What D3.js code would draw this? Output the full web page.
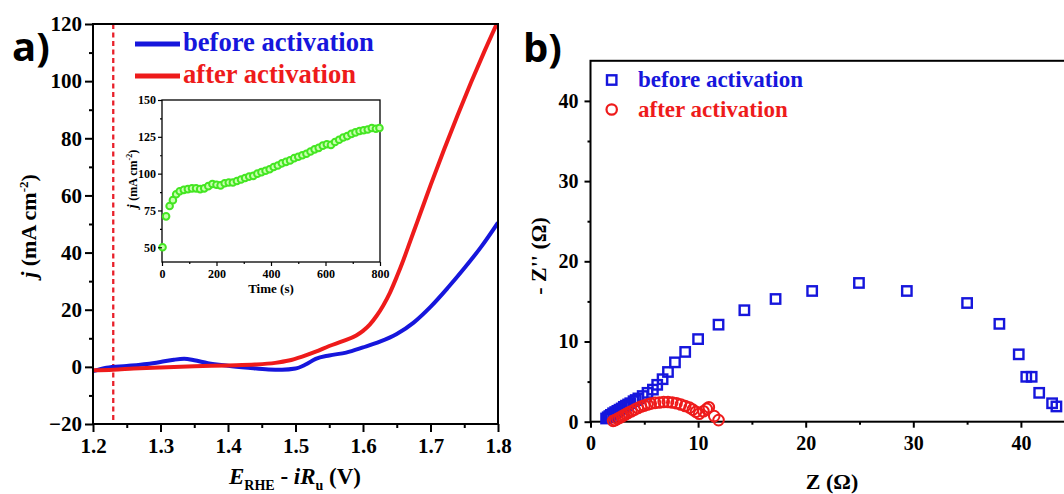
<!DOCTYPE html>
<html>
<head>
<meta charset="utf-8">
<script src="https://cdn.jsdelivr.net/npm/d3@7"></script>
<style>
  body { margin: 0; background: #fff; }
  text { font-family: "Liberation Serif", "Times New Roman", serif; font-weight: bold; }
  .panel-tag { font-family: "Open Sans", "Liberation Sans", sans-serif; font-weight: 700; }
</style>
</head>
<body>
<script>
// LSV curves (panel a)
const beforeV = [1.20, 1.22, 1.25, 1.28, 1.30, 1.32, 1.335, 1.35, 1.37, 1.40, 1.43, 1.46, 1.48, 1.50, 1.515,
  1.53, 1.55, 1.575, 1.60, 1.625, 1.65, 1.675, 1.70, 1.725, 1.75, 1.775, 1.80];
const beforeJ = [-1.5, -0.3, 0.3, 1.0, 1.7, 2.5, 2.8, 2.3, 1.3, 0.4, -0.3, -0.9, -1.0, -0.6, 0.8,
  2.8, 4.0, 5.0, 6.8, 8.8, 11.5, 15.5, 21, 27.5, 34.5, 42, 50.5];
const afterV = [1.20, 1.23, 1.26, 1.30, 1.35, 1.40, 1.44, 1.47, 1.49, 1.51, 1.53, 1.55, 1.57, 1.59, 1.60,
  1.61, 1.62, 1.63, 1.64, 1.65, 1.66, 1.67, 1.68, 1.69, 1.70, 1.72, 1.74, 1.76, 1.78, 1.80];
const afterJ = [-1.2, -1.0, -0.6, -0.2, 0.2, 0.5, 0.8, 1.4, 2.2, 3.6, 5.3, 7.3, 9, 11, 12.6,
  14.8, 17.8, 21.5, 26, 31.5, 37.5, 44, 50.5, 57, 63.5, 76, 88, 99.5, 110.5, 121];
const onsetV = 1.23;

// inset: chronoamperometry
const insetT = [2, 15, 28, 40, 52, 65, 80, 95, 110, 125, 140, 155, 170, 185, 200, 215, 230, 245, 260, 275,
  290, 305, 320, 335, 350, 365, 380, 395, 410, 425, 440, 455, 470, 485, 500, 515, 530, 545, 560, 575,
  590, 605, 620, 635, 650, 665, 680, 695, 710, 725, 740, 755, 770, 785, 798];
const insetJ = [50, 71, 78, 82, 86, 88, 89, 89.5, 90, 90, 89.5, 90, 91.5, 93, 92.5, 92, 93.5, 94, 94, 95,
  96, 97, 98, 98.5, 100, 101, 102, 103, 104.5, 105.5, 107, 108, 109, 110.5, 111.5, 112.5, 113.5, 115, 116.5, 117.5,
  119, 120, 119.5, 121.5, 123, 124.5, 125.5, 127, 128, 129, 129.5, 130, 131, 130.5, 131];

// Nyquist (panel b)
const beforeZr = [1.45, 1.6, 1.75, 1.9, 2.1, 2.3, 2.5, 2.7, 2.9, 3.1, 3.3, 3.5, 3.7, 4.0, 4.2, 4.45, 4.85, 5.3, 5.8, 6.2,
  6.7, 7.2, 7.85, 8.8, 10.0, 11.9, 14.3, 17.2, 20.6, 24.95, 29.4, 35.0, 38.0, 39.8, 40.5, 41.0, 41.7, 42.9, 43.3];
const beforeZi = [0.4, 0.55, 0.7, 0.85, 1.05, 1.2, 1.35, 1.5, 1.65, 1.85, 2.0, 2.15, 2.3, 2.55, 2.7, 2.9, 3.2, 3.6, 4.0, 4.6,
  5.3, 6.2, 7.4, 8.7, 10.3, 12.1, 13.9, 15.3, 16.3, 17.3, 16.3, 14.8, 12.2, 8.4, 5.6, 5.6, 3.6, 2.3, 1.9];
const afterZr = [2.1, 2.3, 2.5, 2.7, 2.9, 3.1, 3.3, 3.5, 3.8, 4.1, 4.4, 4.7, 5.0, 5.3, 5.6, 6.0, 6.4, 6.8, 7.2, 7.6,
  8.0, 8.4, 8.8, 9.2, 9.5, 9.8, 10.1, 10.5, 10.8, 11.0, 11.5, 11.9];
const afterZi = [0.1, 0.2, 0.35, 0.5, 0.65, 0.8, 0.95, 1.1, 1.3, 1.5, 1.7, 1.9, 2.0, 2.15, 2.25, 2.35, 2.4, 2.45, 2.45, 2.4,
  2.3, 2.15, 1.95, 1.75, 1.5, 1.25, 1.0, 1.3, 1.6, 1.8, 0.7, 0.2];

const xTicksA = [1.2, 1.3, 1.4, 1.5, 1.6, 1.7, 1.8];
const xMinorA = [1.25, 1.35, 1.45, 1.55, 1.65, 1.75];
const yTicksA = [-20, 0, 20, 40, 60, 80, 100, 120];
const yMinorA = [-10, 10, 30, 50, 70, 90, 110];
const xTicksI = [0, 200, 400, 600, 800];
const xMinorI = [100, 300, 500, 700];
const yTicksI = [50, 75, 100, 125, 150];
const yMinorI = [62.5, 87.5, 112.5, 137.5];
const xTicksB = [0, 10, 20, 30, 40];
const xMinorB = [5, 15, 25, 35, 45];
const yTicksB = [0, 10, 20, 30, 40];
const yMinorB = [5, 15, 25, 35];

const BLUE = "#1616dc";
const RED = "#ee1b1b";
const GREEN = "#44e622";

const svg = d3.select("body").append("svg")
  .attr("width", 1064)
  .attr("height", 494);

// helper for axes with major + minor ticks
function drawAxis(g, maker, scale, major, minor, size, fmt, fontSize, pad, width) {
  g.append("g")
    .call(maker(scale).tickValues(major).tickSize(size).tickPadding(pad).tickFormat(fmt))
    .call((a) => a.select(".domain").remove())
    .call((a) => a.selectAll("line").attr("stroke-width", width))
    .call((a) => a.selectAll("text").attr("fill", "#000").style("font-size", fontSize + "px")
      .style("font-family", '"Liberation Serif", serif').style("font-weight", "bold"));
  g.append("g")
    .call(maker(scale).tickValues(minor).tickSize(size / 2).tickFormat(""))
    .call((a) => a.select(".domain").remove())
    .call((a) => a.selectAll("line").attr("stroke-width", width));
}

// ---------- panel a ----------
const xA = d3.scaleLinear().domain([1.2, 1.8]).range([93, 498]);
const yA = d3.scaleLinear().domain([-20, 120]).range([424, 24]);

svg.append("clipPath").attr("id", "clipA")
  .append("rect").attr("x", 93).attr("y", 24).attr("width", 405).attr("height", 400);

const lineA = d3.line().x((d) => xA(d[0])).y((d) => yA(d[1])).curve(d3.curveMonotoneX);

const plotA = svg.append("g").attr("clip-path", "url(#clipA)");

plotA.append("line")
  .attr("x1", xA(onsetV)).attr("x2", xA(onsetV))
  .attr("y1", yA(120)).attr("y2", yA(-20))
  .attr("stroke", "#e8202a").attr("stroke-width", 2.3).attr("stroke-dasharray", "5,3.5");

plotA.append("path")
  .datum(beforeV.map((v, i) => [v, beforeJ[i]]))
  .attr("d", lineA).attr("fill", "none").attr("stroke", BLUE).attr("stroke-width", 4);

plotA.append("path")
  .datum(afterV.map((v, i) => [v, afterJ[i]]))
  .attr("d", lineA).attr("fill", "none").attr("stroke", RED).attr("stroke-width", 4);

svg.append("rect").attr("x", 93).attr("y", 24).attr("width", 405).attr("height", 400)
  .attr("fill", "none").attr("stroke", "#000").attr("stroke-width", 2);

drawAxis(svg.append("g").attr("transform", "translate(0,424)"), d3.axisBottom, xA, xTicksA, xMinorA, 8,
  d3.format(".1f"), 21, 6, 2);
drawAxis(svg.append("g").attr("transform", "translate(93,0)"), d3.axisLeft, yA, yTicksA, yMinorA, 8,
  d3.format("d"), 21, 3, 2);

// axis titles a
const xLabA = svg.append("text").attr("x", 295).attr("y", 484).attr("text-anchor", "middle")
  .style("font-size", "23px");
xLabA.append("tspan").style("font-style", "italic").text("E");
xLabA.append("tspan").attr("dy", 6).style("font-size", "14px").text("RHE");
xLabA.append("tspan").attr("dy", -6).text(" - ");
xLabA.append("tspan").style("font-style", "italic").text("iR");
xLabA.append("tspan").attr("dy", 6).style("font-size", "14px").text("u");
xLabA.append("tspan").attr("dy", -6).text(" (V)");

const yLabA = svg.append("text").attr("transform", "translate(36,226) rotate(-90)")
  .attr("text-anchor", "middle").style("font-size", "22px");
yLabA.append("tspan").style("font-style", "italic").text("j ");
yLabA.append("tspan").text("(mA cm");
yLabA.append("tspan").attr("dy", -8).style("font-size", "13px").text("-2");
yLabA.append("tspan").attr("dy", 8).text(")");

// legend a
const legA = [["before activation", BLUE, 44], ["after activation", RED, 76]];
legA.forEach(([label, c, y]) => {
  svg.append("line").attr("x1", 135).attr("x2", 180).attr("y1", y).attr("y2", y)
    .attr("stroke", c).attr("stroke-width", 5);
  svg.append("text").attr("x", 183).attr("y", y + 7).attr("fill", c)
    .style("font-size", "26.6px").text(label);
});

svg.append("text").attr("class", "panel-tag").attr("x", 12).attr("y", 61)
  .style("font-size", "40px").text("a)");

// ---------- inset ----------
const xI = d3.scaleLinear().domain([0, 800]).range([162, 380]);
const yI = d3.scaleLinear().domain([40, 150]).range([262, 100]);

svg.append("rect").attr("x", 162).attr("y", 100).attr("width", 218).attr("height", 162)
  .attr("fill", "#fff").attr("stroke", "#000").attr("stroke-width", 1.3);

svg.append("g").selectAll("circle")
  .data(insetT.map((t, i) => [t, insetJ[i]]))
  .join("circle")
  .attr("cx", (d) => xI(d[0])).attr("cy", (d) => yI(d[1])).attr("r", 3.3)
  .attr("fill", "#c9ffb0").attr("stroke", GREEN).attr("stroke-width", 2);

drawAxis(svg.append("g").attr("transform", "translate(0,262)"), d3.axisBottom, xI, xTicksI, xMinorI, 4,
  d3.format("d"), 12, 3, 1.2);
drawAxis(svg.append("g").attr("transform", "translate(162,0)"), d3.axisLeft, yI, yTicksI, yMinorI, 4,
  d3.format("d"), 12, 2, 1.2);

svg.append("text").attr("x", 271).attr("y", 293).attr("text-anchor", "middle")
  .style("font-size", "13px").text("Time (s)");

const yLabI = svg.append("text").attr("transform", "translate(137,179) rotate(-90)")
  .attr("text-anchor", "middle").style("font-size", "12px");
yLabI.append("tspan").style("font-style", "italic").style("font-size", "14px").text("j ");
yLabI.append("tspan").text("(mA cm");
yLabI.append("tspan").attr("dy", -5).style("font-size", "8px").text("-2");
yLabI.append("tspan").attr("dy", 5).text(")");

// ---------- panel b ----------
const xB = d3.scaleLinear().domain([0, 46]).range([590.5, 590.5 + 46 * 10.76]);
const yB = d3.scaleLinear().domain([0, 45]).range([421.7, 60.8]);

svg.append("rect").attr("x", xB(0)).attr("y", yB(45))
  .attr("width", xB(46) - xB(0)).attr("height", yB(0) - yB(45))
  .attr("fill", "none").attr("stroke", "#000").attr("stroke-width", 2);

svg.append("g").selectAll("rect")
  .data(beforeZr.map((z, i) => [z, beforeZi[i]]))
  .join("rect")
  .attr("x", (d) => xB(d[0]) - 4.7).attr("y", (d) => yB(d[1]) - 4.7)
  .attr("width", 9.4).attr("height", 9.4)
  .attr("fill", "none").attr("stroke", BLUE).attr("stroke-width", 2.4);

svg.append("g").selectAll("circle")
  .data(afterZr.map((z, i) => [z, afterZi[i]]))
  .join("circle")
  .attr("cx", (d) => xB(d[0])).attr("cy", (d) => yB(d[1])).attr("r", 5.3)
  .attr("fill", "none").attr("stroke", RED).attr("stroke-width", 2);

drawAxis(svg.append("g").attr("transform", "translate(0,421.7)"), d3.axisBottom, xB, xTicksB, xMinorB, 6,
  d3.format("d"), 20, 8, 2);
drawAxis(svg.append("g").attr("transform", "translate(590.5,0)"), d3.axisLeft, yB, yTicksB, yMinorB, 6,
  d3.format("d"), 20, 6, 2);

svg.append("text").attr("x", 832).attr("y", 489).attr("text-anchor", "middle")
  .style("font-size", "22px").text("Z (Ω)");

svg.append("text").attr("transform", "translate(546,256) rotate(-90)")
  .attr("text-anchor", "middle").style("font-size", "22px").text("- Z'' (Ω)");

// legend b
svg.append("rect").attr("x", 607).attr("y", 75.3).attr("width", 9.4).attr("height", 9.4)
  .attr("fill", "none").attr("stroke", BLUE).attr("stroke-width", 2.4);
svg.append("text").attr("x", 638).attr("y", 87).attr("fill", BLUE)
  .style("font-size", "23px").text("before activation");
svg.append("circle").attr("cx", 611.7).attr("cy", 109.5).attr("r", 5.2)
  .attr("fill", "none").attr("stroke", RED).attr("stroke-width", 2.2);
svg.append("text").attr("x", 638).attr("y", 117).attr("fill", RED)
  .style("font-size", "23px").text("after activation");

svg.append("text").attr("class", "panel-tag").attr("x", 523).attr("y", 62)
  .style("font-size", "40px").text("b)");
</script>
</body>
</html>
